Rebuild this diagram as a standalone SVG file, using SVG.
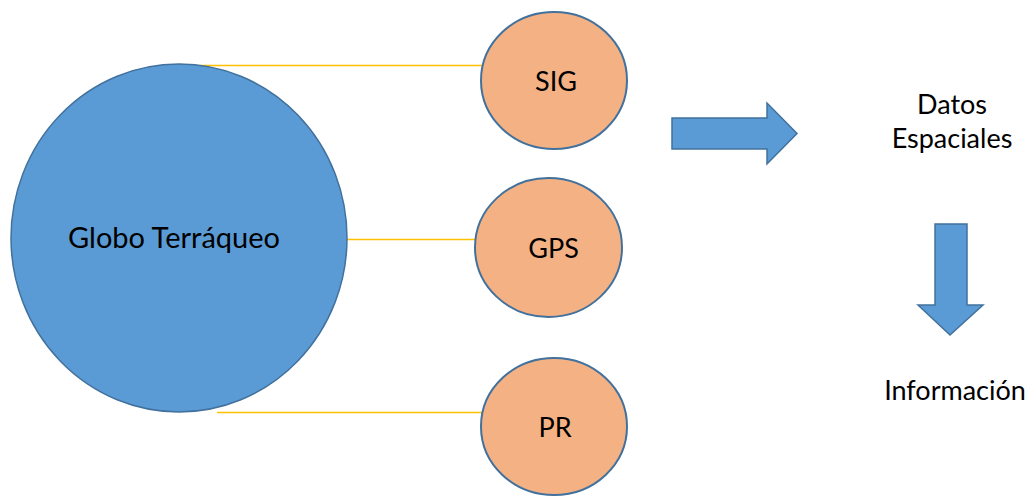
<svg xmlns="http://www.w3.org/2000/svg" width="1033" height="496" viewBox="0 0 1033 496">
<style>
.blue{fill:#5B9BD5;stroke:#41719C;stroke-width:1.5}
.orange{fill:#F4B183;stroke:#41719C;stroke-width:2}
.lbl{font-family:Lato,"Open Sans",sans-serif;font-size:27px;fill:#000;text-anchor:middle}
.conn{stroke:#FFC000;stroke-width:1.5;fill:none}
</style>
<rect width="1033" height="496" fill="#fff"/>
<g id="connectors">
<line class="conn" x1="200" y1="65.5" x2="482" y2="65.5"/>
<line class="conn" x1="347" y1="239.5" x2="476" y2="239.5"/>
<line class="conn" x1="217" y1="412.5" x2="482" y2="412.5"/>
</g>
<g id="globo">
<ellipse class="blue" cx="179" cy="238" rx="168" ry="174"/>
<text class="lbl" x="174" y="248" style="font-size:29px">Globo Terráqueo</text>
</g>
<g id="sig">
<ellipse class="orange" cx="554" cy="80.5" rx="73" ry="68.5"/>
<text class="lbl" x="556" y="91">SIG</text>
</g>
<g id="gps">
<ellipse class="orange" cx="548.5" cy="247.5" rx="73.5" ry="69.5"/>
<text class="lbl" x="553.5" y="258">GPS</text>
</g>
<g id="pr">
<ellipse class="orange" cx="554" cy="426.5" rx="73" ry="68.5"/>
<text class="lbl" x="555" y="437">PR</text>
</g>
<g id="arrow-right">
<polygon class="blue" points="672,118 767,118 767,103 797,133.5 767,164 767,149 672,149"/>
</g>
<g id="arrow-down">
<polygon class="blue" points="935,224 967,224 967,305 983,305 950,335 918,305 935,305"/>
</g>
<g id="datos">
<text class="lbl" x="952" y="114">Datos</text>
<text class="lbl" x="952" y="148">Espaciales</text>
</g>
<g id="informacion">
<text class="lbl" x="955" y="400">Información</text>
</g>
</svg>
